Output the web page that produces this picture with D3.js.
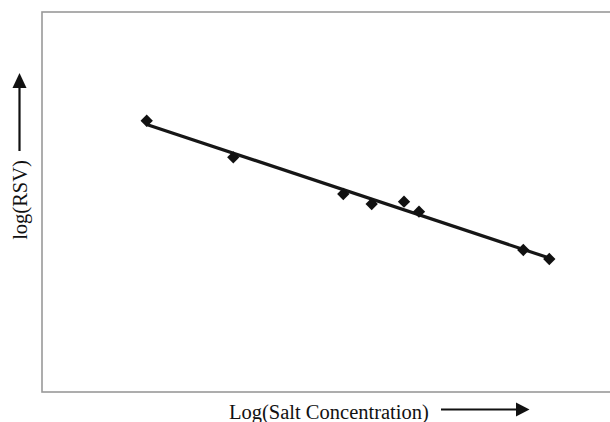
<!DOCTYPE html>
<html>
<head>
<meta charset="utf-8">
<script src="https://cdn.jsdelivr.net/npm/d3@7"></script>
<style>
  body { margin: 0; background: #fff; }
  svg { display: block; }
</style>
</head>
<body>
<svg></svg>
<script>
// values (arbitrary units, no ticks on either axis)
const logSalt = [1.837, 3.356, 5.286, 5.784, 6.351, 6.614, 8.444, 8.900];
const logRSV  = [7.139, 6.176, 5.211, 4.947, 5.008, 4.745, 3.737, 3.500];

const w = 610;
const h = 422;

let svg = d3.select("svg").attr("width", w).attr("height", h);

let xScale = d3.scaleLinear().domain([0, 10]).range([42, 612]);
let yScale = d3.scaleLinear().domain([0, 10]).range([392, 12]);

// plot frame (right edge runs off the picture)
svg.append("rect")
  .attr("x", xScale(0))
  .attr("y", yScale(10))
  .attr("width", xScale(10) - xScale(0) + 4)
  .attr("height", yScale(0) - yScale(10))
  .attr("fill", "none")
  .attr("stroke", "#999")
  .attr("stroke-width", 1.6);

// least squares fit line
let mx = d3.mean(logSalt), my = d3.mean(logRSV);
let sxy = d3.sum(logSalt, (x, i) => (x - mx) * (logRSV[i] - my));
let sxx = d3.sum(logSalt, x => (x - mx) * (x - mx));
let slope = sxy / sxx;
let icpt = my - slope * mx;
let x0 = d3.min(logSalt), x1 = d3.max(logSalt);

svg.append("line")
  .attr("x1", xScale(x0)).attr("y1", yScale(icpt + slope * x0))
  .attr("x2", xScale(x1)).attr("y2", yScale(icpt + slope * x1))
  .attr("stroke", "#161616")
  .attr("stroke-width", 3.2);

// diamond markers
let diamond = d3.symbol().type(d3.symbolSquare).size(76);
svg.selectAll(".pt")
  .data(logSalt)
  .enter()
  .append("path")
  .attr("class", "pt")
  .attr("d", diamond)
  .attr("transform", (d, i) => "translate(" + xScale(d) + "," + yScale(logRSV[i]) + ") rotate(45)")
  .attr("fill", "#111");

// axis titles with arrows
svg.append("text")
  .attr("x", 229)
  .attr("y", 419)
  .attr("font-family", "Liberation Serif, Times New Roman, serif")
  .attr("font-size", "20.5px")
  .attr("fill", "#111")
  .text("Log(Salt Concentration)");

svg.append("line")
  .attr("x1", 441).attr("y1", 409.5).attr("x2", 518).attr("y2", 409.5)
  .attr("stroke", "#111").attr("stroke-width", 2.2);
svg.append("path")
  .attr("d", "M516,402.5 L529.5,409.5 L516,416.5 Z")
  .attr("fill", "#111");

svg.append("text")
  .attr("transform", "translate(27,200) rotate(-90)")
  .attr("text-anchor", "middle")
  .attr("font-family", "Liberation Serif, Times New Roman, serif")
  .attr("font-size", "20.5px")
  .attr("fill", "#111")
  .text("log(RSV)");

svg.append("line")
  .attr("x1", 19.5).attr("y1", 151).attr("x2", 19.5).attr("y2", 86)
  .attr("stroke", "#111").attr("stroke-width", 2.2);
svg.append("path")
  .attr("d", "M12.5,88 L19.5,73 L26.5,88 Z")
  .attr("fill", "#111");
</script>
</body>
</html>
